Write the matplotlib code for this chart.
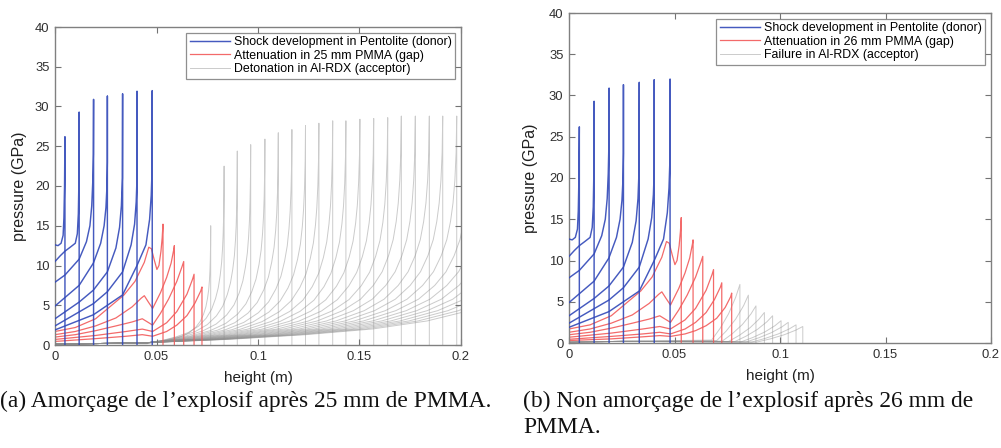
import numpy as np
import matplotlib
matplotlib.use("Agg")
import matplotlib.pyplot as plt

# Profils de pression (position du front en m, pression en GPa)
blue_front = [0.0049, 0.0119, 0.0190, 0.0258, 0.0333, 0.0404, 0.0479]
blue_peak = [26.2, 29.3, 30.9, 31.3, 31.6, 31.9, 32.0]
blue_x = [
    [0, 0.0015, 0.003, 0.0040, 0.0044, 0.0047],
    [0, 0.0025, 0.0049, 0.0075, 0.0100, 0.0110, 0.0115, 0.0118],
    [0, 0.0049, 0.0119, 0.0155, 0.0172, 0.0181, 0.0186, 0.0189],
    [0, 0.0119, 0.0189, 0.0225, 0.0242, 0.0251, 0.0256, 0.0258],
    [0, 0.0119, 0.0189, 0.0258, 0.0300, 0.0318, 0.0327, 0.0332],
    [0, 0.0189, 0.0258, 0.0333, 0.0375, 0.0392, 0.0400, 0.0404],
    [0, 0.0189, 0.0333, 0.0404, 0.0448, 0.0466, 0.0474, 0.0478],
]
blue_p = [
    [12.6, 12.5, 12.8, 13.8, 16.0, 20.0],
    [10.5, 11.2, 11.8, 12.3, 12.8, 14.0, 16.5, 21.0],
    [7.9, 8.8, 10.8, 13.0, 15.0, 17.5, 20.5, 24.0],
    [4.9, 7.5, 10.3, 12.8, 15.0, 17.3, 20.0, 23.0],
    [3.3, 5.4, 6.9, 9.2, 12.2, 14.8, 17.5, 21.0],
    [2.4, 5.2, 6.7, 9.2, 12.6, 15.2, 18.0, 21.0],
    [1.9, 3.8, 6.3, 10.0, 12.6, 15.8, 18.8, 22.0],
]

red_front = [0.0532, 0.0588, 0.0634, 0.0685, 0.0724, 0.0771]
red_peak = [15.2, 12.5, 10.5, 8.9, 7.3, 6.05]
red_x = [
    [0, 0.010, 0.020, 0.027, 0.034, 0.0394, 0.044, 0.0462, 0.0475, 0.0490, 0.0502, 0.0512, 0.0522, 0.0528],
    [0, 0.010, 0.020, 0.030, 0.038, 0.0425, 0.0440, 0.0460, 0.0481, 0.052, 0.055, 0.0572, 0.0585],
    [0, 0.010, 0.020, 0.030, 0.038, 0.0430, 0.0481, 0.052, 0.056, 0.060, 0.0625],
    [0, 0.020, 0.035, 0.043, 0.0481, 0.055, 0.060, 0.065, 0.0678],
    [0, 0.020, 0.035, 0.043, 0.0481, 0.055, 0.060, 0.065, 0.069, 0.0718],
    [0, 0.020, 0.035, 0.043, 0.0481, 0.055, 0.060, 0.065, 0.070, 0.074, 0.0766],
]
red_p = [
    [1.7, 2.2, 3.3, 4.8, 6.3, 8.0, 10.4, 12.3, 12.1, 10.6, 9.5, 10.0, 11.8, 13.5],
    [1.3, 1.7, 2.4, 3.4, 4.8, 5.9, 6.2, 5.4, 4.6, 6.6, 8.5, 10.3, 12.0],
    [1.0, 1.3, 1.8, 2.4, 2.9, 3.3, 2.5, 4.0, 5.8, 8.0, 9.8],
    [0.7, 1.2, 1.7, 2.0, 1.7, 2.8, 4.2, 6.4, 8.3],
    [0.45, 0.8, 1.1, 1.3, 1.1, 1.7, 2.5, 3.7, 5.3, 6.8],
    [0.3, 0.5, 0.75, 0.9, 0.8, 1.1, 1.5, 2.1, 3.0, 4.3, 5.6],
]

# accepteur, cas (a) : détonation
det_front = [0.0767, 0.0833, 0.0898, 0.0964, 0.1034, 0.1100, 0.1167, 0.1234, 0.1300,
             0.1368, 0.1433, 0.1502, 0.1570, 0.1639, 0.1706, 0.1775, 0.1844, 0.1910,
             0.1979, 0.2046, 0.2113, 0.2180, 0.2247, 0.2314, 0.2380, 0.2447, 0.2514]
det_peak = [15.0, 22.5, 24.4, 25.2, 25.9, 26.7, 27.1, 27.6, 27.9,
            28.2, 28.2, 28.4, 28.5, 28.6, 28.8, 28.8, 28.8, 28.8,
            28.8, 28.8, 28.8, 28.8, 28.8, 28.8, 28.8, 28.8, 28.8]
det_origin = 0.045
# forme relevée derrière le front (fraction de la distance au front / fraction du pic)
det_shape_r = [0, 0.002, 0.006, 0.012, 0.02, 0.032, 0.05, 0.075, 0.11, 0.16, 0.23, 0.33, 0.46, 0.62, 0.8, 1.0]
det_shape_f = [1.0, 0.84, 0.72, 0.62, 0.54, 0.46, 0.39, 0.32, 0.26, 0.2, 0.15, 0.105, 0.07, 0.045, 0.025, 0.01]
tail_x = [0.0, 0.025]
tail_p = [0.1, 0.2]

# accepteur, cas (b) : échec
fail_front = [0.0810, 0.0850, 0.0886, 0.0926, 0.0965, 0.1005, 0.1039, 0.1076, 0.1108]
fail_peak = [7.1, 5.8, 4.5, 3.7, 3.3, 2.7, 2.5, 2.2, 2.0]
fail_width = [0.0134, 0.015, 0.016, 0.017, 0.018, 0.019, 0.020, 0.021, 0.022]
fail_shape_s = [0, 0.3, 0.6, 0.85, 1.0]
fail_shape_f = [0.05, 0.25, 0.5, 0.78, 1.0]

xticks = [0, 0.05, 0.1, 0.15, 0.2]
xticklabels = ['0', '0.05', '0.1', '0.15', '0.2']
yticks = [0, 5, 10, 15, 20, 25, 30, 35, 40]

BLUE = '#3148b8'
RED = '#f25a5a'
GREY = '#8c8c8c'

plt.rcParams['font.family'] = ['Liberation Sans', 'DejaVu Sans']

W, H = 1001, 448
fig = plt.figure(figsize=(W / 100, H / 100), dpi=100)


def px_axes(l, t, r, b):
    return fig.add_axes([l / W, 1 - b / H, (r - l) / W, (b - t) / H])


def profile(xs, ps, front, peak):
    return list(xs) + [front, front], list(ps) + [peak, 0]


def draw_donor_gap(ax, n_red):
    for i in range(len(blue_front)):
        x, p = profile(blue_x[i], blue_p[i], blue_front[i], blue_peak[i])
        ax.plot(x, p, color=BLUE, lw=1.05, alpha=0.9, zorder=3,
                label='donor' if i == 0 else None)
    for i in range(n_red):
        x, p = profile(red_x[i], red_p[i], red_front[i], red_peak[i])
        ax.plot(x, p, color=RED, lw=0.9, alpha=0.9, zorder=2,
                label='gap' if i == 0 else None)


def style(ax, ylabel_x):
    ax.set_xlim(0, 0.2)
    ax.set_ylim(0, 40)
    ax.set_xticks(xticks)
    ax.set_xticklabels(xticklabels)
    ax.set_yticks(yticks)
    ax.tick_params(direction='in', top=True, right=True, length=4, width=0.8,
                   color='0.45', labelcolor='#303030', labelsize=9.4, pad=4)
    for s in ax.spines.values():
        s.set_color('0.5')
        s.set_linewidth(1.0)
    ax.set_xlabel('height (m)', fontsize=11, color='#202020', labelpad=6)
    ax.set_ylabel('pressure (GPa)', fontsize=11.5, color='#202020')
    ax.yaxis.set_label_coords(ylabel_x, 0.5)


def add_legend(ax, labels):
    h, l = ax.get_legend_handles_labels()
    leg = ax.legend(h, labels, loc='upper right', fontsize=8.9, frameon=True, fancybox=False,
                    edgecolor='0.45', handlelength=3.2, handletextpad=0.35,
                    labelspacing=0.12, borderpad=0.3, borderaxespad=0.45)
    leg.get_frame().set_linewidth(0.9)


# (a)
ax1 = px_axes(55, 27, 461, 345)
draw_donor_gap(ax1, 5)
for i in range(len(det_front)):
    L = det_front[i] - det_origin
    x = tail_x + [det_front[i] - r * L for r in det_shape_r[::-1]] + [det_front[i]]
    p = tail_p + [det_peak[i] * f for f in det_shape_f[::-1]] + [0]
    ax1.plot(x, p, color=GREY, lw=0.7, alpha=0.45, zorder=1,
             label='acc' if i == 0 else None)
style(ax1, -0.068)
add_legend(ax1, ['Shock development in Pentolite (donor)', 'Attenuation in 25 mm PMMA (gap)',
                 'Detonation in Al-RDX (acceptor)'])

# (b)
ax2 = px_axes(569, 13, 991, 343)
draw_donor_gap(ax2, 6)
for i in range(len(fail_front)):
    w = fail_width[i]
    foot = fail_front[i] - w
    x = tail_x + [foot + s * w for s in fail_shape_s] + [fail_front[i]]
    p = tail_p + [fail_peak[i] * f for f in fail_shape_f] + [0]
    ax2.plot(x, p, color=GREY, lw=0.7, alpha=0.45, zorder=1,
             label='acc' if i == 0 else None)
style(ax2, -0.073)
add_legend(ax2, ['Shock development in Pentolite (donor)', 'Attenuation in 26 mm PMMA (gap)',
                 'Failure in Al-RDX (acceptor)'])

serif = ['Liberation Serif', 'DejaVu Serif']
fig.text(0.0, 1 - 401 / H, '(a) Amorçage de l’explosif après 25 mm de PMMA.',
         family=serif, fontsize=16.9, va='center', ha='left', color='#111111')
fig.text(523 / W, 1 - 401 / H, '(b) Non amorçage de l’explosif après 26 mm de',
         family=serif, fontsize=16.9, va='center', ha='left', color='#111111')
fig.text(523 / W, 1 - 427 / H, 'PMMA.',
         family=serif, fontsize=16.9, va='center', ha='left', color='#111111')

fig.savefig('out.png', dpi=100)
